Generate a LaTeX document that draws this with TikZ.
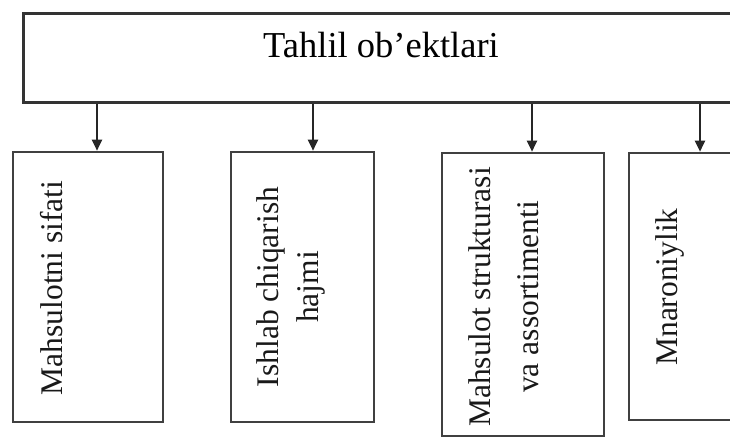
\documentclass[tikz,border=0pt]{standalone}
\usepackage{fontspec}
\setmainfont{Liberation Serif}
\usetikzlibrary{arrows.meta}
\tikzset{
  headbox/.style={draw=black!80, line width=3pt, minimum width=716pt, minimum height=89pt, inner sep=0pt, text height=26pt, text depth=26pt, font=\fontsize{36.5}{40}\selectfont},
  itembox/.style={draw=black!75, line width=2.6pt, inner sep=0pt},
  itemtext/.style={rotate=90, align=center, inner sep=0pt, text=black!90, font=\fontsize{31.5}{40}\selectfont},
  downarrow/.style={-{Triangle[length=11pt,width=10pt]}, line width=2.2pt, draw=black!85}
}

\begin{document}
\begin{tikzpicture}[x=1pt,y=-1pt]
  \useasboundingbox (0,0) rectangle (730,437);
  \node[headbox] (top) at (381,57.5) {Tahlil ob’ektlari};
  \node[itembox, minimum width=150pt, minimum height=270pt] (b1) at (88,287) {};
  \node[itembox, minimum width=143pt, minimum height=270pt] (b2) at (302.5,287) {};
  \node[itembox, minimum width=162pt, minimum height=283pt] (b3) at (523,294.5) {};
  \node[itembox, minimum width=124pt, minimum height=267pt] (b4) at (691,286.5) {};
  \node[itemtext] (t1) at (52,288) {Mahsulotni sifati};
  \node[itemtext] (t2) at (291,287) {Ishlab chiqarish\\hajmi};
  \node[itemtext] (t3) at (504,297) {Mahsulot strukturasi\\[8pt]va assortimenti};
  \node[itemtext] (t4) at (670,287) {Mnaroniylik};
  \draw[downarrow] ([xshift=9pt]b1.north |- top.south) -- ([xshift=9pt]b1.north);
  \draw[downarrow] ([xshift=10.5pt]b2.north |- top.south) -- ([xshift=10.5pt]b2.north);
  \draw[downarrow] ([xshift=9pt]b3.north |- top.south) -- ([xshift=9pt]b3.north);
  \draw[downarrow] ([xshift=9pt]b4.north |- top.south) -- ([xshift=9pt]b4.north);
\end{tikzpicture}
\end{document}
